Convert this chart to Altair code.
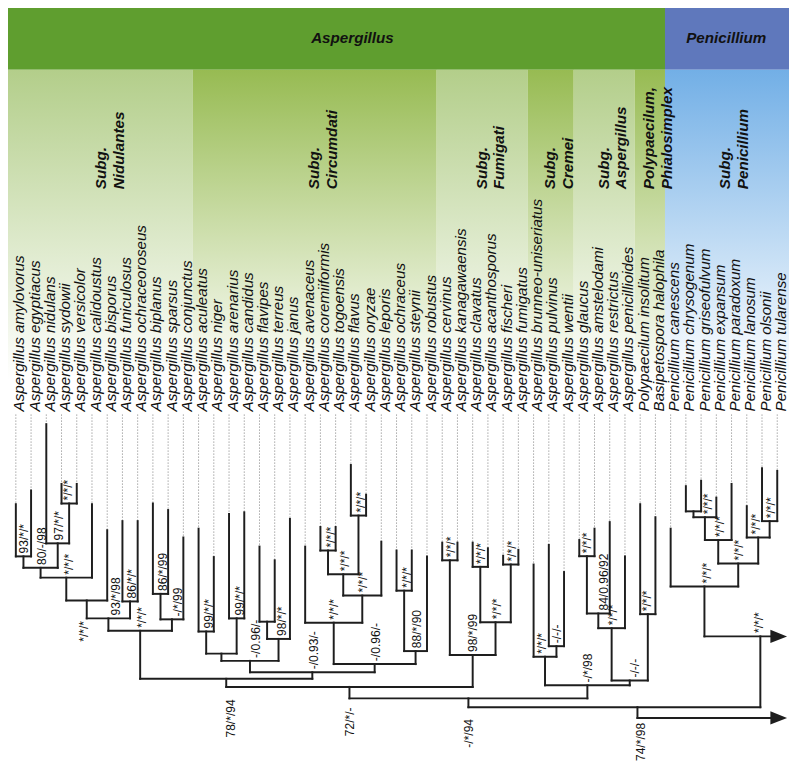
import altair as alt
import pandas as pd

# ------------------------------------------------------------------ data
taxa = [
    "Aspergillus amylovorus", "Aspergillus egyptiacus", "Aspergillus nidulans", "Aspergillus sydowii",
    "Aspergillus versicolor", "Aspergillus calidoustus", "Aspergillus bisporus", "Aspergillus funiculosus",
    "Aspergillus ochraceoroseus", "Aspergillus biplanus", "Aspergillus sparsus", "Aspergillus conjunctus",
    "Aspergillus aculeatus", "Aspergillus niger", "Aspergillus arenarius", "Aspergillus candidus",
    "Aspergillus flavipes", "Aspergillus terreus", "Aspergillus janus", "Aspergillus avenaceus",
    "Aspergillus coremiiformis", "Aspergillus togoensis", "Aspergillus flavus", "Aspergillus oryzae",
    "Aspergillus leporis", "Aspergillus ochraceus", "Aspergillus steynii", "Aspergillus robustus",
    "Aspergillus cervinus", "Aspergillus kanagawaensis", "Aspergillus clavatus", "Aspergillus acanthosporus",
    "Aspergillus fischeri", "Aspergillus fumigatus",
    "Aspergillus brunneo-uniseriatus", "Aspergillus pulvinus", "Aspergillus wentii",
    "Aspergillus glaucus", "Aspergillus amstelodami", "Aspergillus restrictus", "Aspergillus penicillioides",
    "Polypaecilum insolitum", "Basipetospora halophila",
    "Penicillium canescens", "Penicillium chrysogenum", "Penicillium griseofulvum", "Penicillium expansum",
    "Penicillium paradoxum", "Penicillium lanosum", "Penicillium olsonii", "Penicillium tularense",
]

# depth (reference units, downward) where each terminal branch starts
tip_end = [506.7, 492.7, 425, 486, 486, 506.7, 533.3, 524, 524, 506, 512.7, 540.7,
           531.7, 560.7, 516.7, 515, 550, 564, 521.7, 550, 530, 530, 466.7, 497, 545, 554, 554, 560,
           546, 546, 546, 551.7, 559.3, 553.3,
           568.3, 548.3, 576,
           543.3, 531.7, 525, 560,
           506.7, 520,
           531.7, 488.3, 482.7, 500, 486, 508.7, 470, 472.7]

node_id = ["N1", "N2", "N3", "N4", "N5", "N6", "N7a", "N7", "N8", "N9", "N10",
           "N11", "N12", "N13", "N14", "N15", "N16", "N17", "N19", "N18", "N20", "N21", "N22", "N23", "N24", "N25", "N26",
           "F1", "F2", "F3", "F4", "F5", "N27",
           "C1", "C2", "A1", "A2", "A3", "P1", "A4", "C3", "N28",
           "Q1", "Q2", "Q3", "Q5", "Q6", "Q4", "Q0"]
node_left = [0, 3, 2, "N1", "N4", "N5", 7, "N6", 9, "N8", "N7",
             12, 14, "N11", 16, "N14", "N13", 20, 22, "N17", "N18", 19, 25, "N22", "N21", "N16", "N10",
             28, 30, 32, "F2", "F1", "N26",
             35, 34, 37, "A1", "A2", 41, "A3", "C2", "N27",
             44, "Q1", "Q2", 49, 48, "Q3", 43]
node_right = [1, 4, "N2", "N3", 5, 6, 8, "N7a", 10, 11, "N9",
              13, 15, "N12", 17, 18, "N15", 21, 23, "N19", 24, "N20", 26, 27, "N23", "N24", "N25",
              29, 31, 33, "F3", "F4", "F5",
              36, "C1", 38, 39, 40, 42, "P1", "A4", "C3",
              45, 46, 47, 50, "Q5", "Q6", "Q4"]
node_depth = [560, 506, 546.7, 571.7, 581.7, 605, 606, 623.3, 598.3, 624.3, 636,
              636.7, 623.3, 659.3, 626.7, 644.3, 666.7, 554, 518.3, 578.3, 600, 627.7, 595, 656.7, 670, 678.3, 685,
              564, 570.7, 568.3, 627.3, 660.7, 693.3,
              651.7, 662.5, 559.8, 618.3, 633.3, 619, 686.7, 691.7, 705,
              514, 520, 543.3, 524, 540.7, 567.3, 590.7]
node_support = ["93/*/*", "*/*/*", "97/*/*", "80/-/98", "*/*/*", "*/*/*", "86/*/*", "93/*/98", "86/*/99", "-/*/99", "*/*/*",
                "99/*/*", "99/*/*", "", "", "98/*/*", "-/0.96/-", "*/*/*", "*/*/*", "*/*/*", "*/*/*", "*/*/*", "*/*/*",
                "88/*/90", "-/0.96/-", "-/0.93/-", "78/*/94",
                "*/*/*", "*/*/*", "*/*/*", "*/*/*", "98/*/99", "72/*/-",
                "-/-/-", "*/*/*", "*/*/*", "84/0.96/92", "*/*/*", "*/*/*", "-/-/-", "-/*/98", "-/*/94",
                "", "*/*/*", "*/*/*", "*/*/*", "*/*/*", "*/*/*", "*/*/*"]

# Penicillium stem and root of the tree (outgroup arrows)
pen_join_x = 48.89
pen_stem_depth = 641.7
pen_support = "*/*/*"
root_x = 40.82
root_depth = 714
root_tail_depth = 725
root_support = "74/*/98"

group_name = ["Subg.\nNidulantes", "Subg.\nCircumdati", "Subg.\nFumigati", "Subg.\nCremei",
              "Subg.\nAspergillus", "Polypaecilum,\nPhialosimplex", "Subg.\nPenicillium"]
group_first = [0, 12, 28, 34, 37, 41, 43]
group_last = [11, 27, 33, 36, 40, 42, 50]
group_tone = ["light", "dark", "light", "dark", "light", "dark", "blue"]

genus_name = ["Aspergillus", "Penicillium"]
genus_first = [0, 43]
genus_last = [42, 50]

# ------------------------------------------------------------------ layout / style
REF_W, REF_H = 797, 771
W, H = 781, 755
S = W / REF_W
X0, STEP = 8.0, 15.54


def ix(px):
    return (px - X0) / STEP


XMIN, XMAX = ix(0), ix(REF_W)
HEAD_BOTTOM = 63
BAND_FADE = 380
GROUP_TEXT_Y = 185
NAME_Y = 412
DOT_TOP = 415
EDGE_SHIFT = 2.0 / STEP
ARROW_X = ix(786.5)

label_shift = [0.5, -1, 1, 1, 2.5, -3, 2.5, 8, 2.7, 6, 2,
               3, 3.3, 0, 0, 4, 6.5, 3.5, 2.4, 2, 1, 0, 2.4, 1.6, 1.7, 2, 5,
               0.8, 0.5, 0.8, 1.7, 0.8, 0.6,
               0.4, -3, 0, 5.6, 1.5, -1, 5.5, 0.5, 1,
               0, 3, 2, 1, -2.6, 1, 3]
below_nodes = {"N6", "N26", "N27", "N28"}

HEAD_COL = ["#5f9e2f", "#5f78bc"]
TONE_COL = {"light": "#b3ce8a", "dark": "#97bb52", "blue": "#72afe6"}
LINE_COL = "#1e1e1e"
FONT = "Liberation Sans"
SUP_SIZE = 12.3

xs = alt.Scale(domain=[XMIN, XMAX], range=[0, W], nice=False, zero=False)
ys = alt.Scale(domain=[0, REF_H], range=[0, H], nice=False, zero=False)


def X(f="x"):
    return alt.X(f + ":Q", scale=xs, axis=None)


def Y(f="y"):
    return alt.Y(f + ":Q", scale=ys, axis=None)


# ------------------------------------------------------------------ tree geometry
pos = {i: (float(i), d) for i, d in enumerate(tip_end)}
solid, dotted, sup_a, sup_b = [], [], [], []
for i, d in enumerate(tip_end):
    dotted.append(dict(x=i, x2=i, y=DOT_TOP, y2=d))
for k, (nid, l, r, d) in enumerate(zip(node_id, node_left, node_right, node_depth)):
    xl, yl = pos[l]
    xr, yr = pos[r]
    xm = (xl + xr) / 2
    pos[nid] = (xm, d)
    solid.append(dict(x=xl, x2=xl, y=yl, y2=d))
    solid.append(dict(x=xr, x2=xr, y=yr, y2=d))
    solid.append(dict(x=xl, x2=xr, y=d, y2=d))
    if node_support[k]:
        lx = xm + label_shift[k] / STEP
        if nid in below_nodes:
            sup_b.append(dict(x=lx, y=d + 21, t=node_support[k]))
        else:
            sup_a.append(dict(x=lx, y=d - 3, t=node_support[k]))

qx, qy = pos["Q0"]
nx, ny = pos["N28"]
solid += [
    dict(x=qx, x2=qx, y=qy, y2=pen_stem_depth),
    dict(x=qx, x2=ARROW_X, y=pen_stem_depth, y2=pen_stem_depth),
    dict(x=pen_join_x, x2=pen_join_x, y=pen_stem_depth, y2=root_depth),
    dict(x=nx, x2=nx, y=ny, y2=root_depth),
    dict(x=nx, x2=pen_join_x, y=root_depth, y2=root_depth),
    dict(x=root_x, x2=root_x, y=root_depth, y2=root_tail_depth),
    dict(x=root_x, x2=ARROW_X, y=root_tail_depth, y2=root_tail_depth),
]
sup_a.append(dict(x=pen_join_x - 1 / STEP, y=pen_stem_depth - 3.5, t=pen_support))
sup_b.append(dict(x=root_x + 4 / STEP, y=root_depth + 16, t=root_support))
arrows = pd.DataFrame([dict(x=ARROW_X, y=pen_stem_depth), dict(x=ARROW_X, y=root_tail_depth)])

# ------------------------------------------------------------------ backgrounds
heads = []
for k, (g, a, b) in enumerate(zip(genus_name, genus_first, genus_last)):
    x1 = XMIN if a == 0 else a - 0.5 + EDGE_SHIFT
    x2 = XMAX if b == len(taxa) - 1 else b + 0.5 + EDGE_SHIFT
    heads.append(dict(x=x1, x2=x2, y=0, y2=HEAD_BOTTOM, c=HEAD_COL[k], t=g))
heads = pd.DataFrame(heads)
head_text = pd.DataFrame([
    dict(x=ix(351.5), y=31, t=genus_name[0]),
    dict(x=ix(733), y=31, t=genus_name[1]),
])

bands = []
for g, a, b, tone in zip(group_name, group_first, group_last, group_tone):
    x1 = XMIN if a == 0 else a - 0.5 + EDGE_SHIFT
    x2 = XMAX if b == len(taxa) - 1 else b + 0.5 + EDGE_SHIFT
    bands.append(dict(x=x1, x2=x2, y=HEAD_BOTTOM, y2=BAND_FADE, tone=tone,
                      tx=(a + b) / 2 + 1.5 / STEP, ty=GROUP_TEXT_Y, t=g))
bands = pd.DataFrame(bands)

layers = []
layers.append(alt.Chart(heads).mark_rect().encode(
    x=X(), x2="x2:Q", y=Y(), y2="y2:Q", fill=alt.Fill("c:N", scale=None)))
for tone, col in TONE_COL.items():
    grad = alt.LinearGradient(gradient="linear",
                              stops=[alt.GradientStop(color=col, offset=0),
                                     alt.GradientStop(color="#ffffff", offset=1)],
                              x1=0, x2=0, y1=0, y2=1)
    layers.append(alt.Chart(bands[bands.tone == tone]).mark_rect(fill=grad).encode(
        x=X(), x2="x2:Q", y=Y(), y2="y2:Q"))

layers.append(alt.Chart(head_text).mark_text(
    font=FONT, fontSize=15.5 * S, fontStyle="italic", fontWeight="bold", color="#111",
    align="center", baseline="middle").encode(x=X(), y=Y(), text="t:N"))

layers.append(alt.Chart(bands).mark_text(
    font=FONT, fontSize=15.5 * S, fontStyle="italic", fontWeight="bold", color="#111",
    angle=270, align="left", baseline="middle", lineBreak="\n", lineHeight=18 * S).encode(
    x=X("tx"), y=Y("ty"), text="t:N"))

names = pd.DataFrame(dict(x=[i + 3.6 / STEP for i in range(len(taxa))], y=[NAME_Y] * len(taxa), t=taxa))
layers.append(alt.Chart(names).mark_text(
    font=FONT, fontSize=15.5 * S, fontStyle="italic", color="#111",
    angle=270, align="left", baseline="middle").encode(x=X(), y=Y(), text="t:N"))

layers.append(alt.Chart(pd.DataFrame(dotted)).mark_rule(
    color="#a8a8a8", strokeWidth=1, strokeDash=[1.5, 1.5]).encode(
    x=X(), x2="x2:Q", y=Y(), y2="y2:Q"))
layers.append(alt.Chart(pd.DataFrame(solid)).mark_rule(
    color=LINE_COL, strokeWidth=2 * S, strokeCap="square").encode(
    x=X(), x2="x2:Q", y=Y(), y2="y2:Q"))
layers.append(alt.Chart(arrows).mark_point(
    shape="M1,0L-1,-0.8L-1,0.8Z", size=(17 * S) ** 2, filled=True, color=LINE_COL, opacity=1).encode(
    x=X(), y=Y()))

layers.append(alt.Chart(pd.DataFrame(sup_a)).mark_text(
    font=FONT, fontSize=SUP_SIZE * S, color="#111", angle=270, align="left", baseline="middle").encode(
    x=X(), y=Y(), text="t:N"))
layers.append(alt.Chart(pd.DataFrame(sup_b)).mark_text(
    font=FONT, fontSize=SUP_SIZE * S, color="#111", angle=270, align="right", baseline="middle").encode(
    x=X(), y=Y(), text="t:N"))

chart = alt.layer(*layers).properties(
    width=W, height=H, padding=0, autosize=alt.AutoSizeParams(type="none"), background="white"
).configure_view(stroke=None)

chart.save("out.html", embed_options={"renderer": "svg", "actions": False})
